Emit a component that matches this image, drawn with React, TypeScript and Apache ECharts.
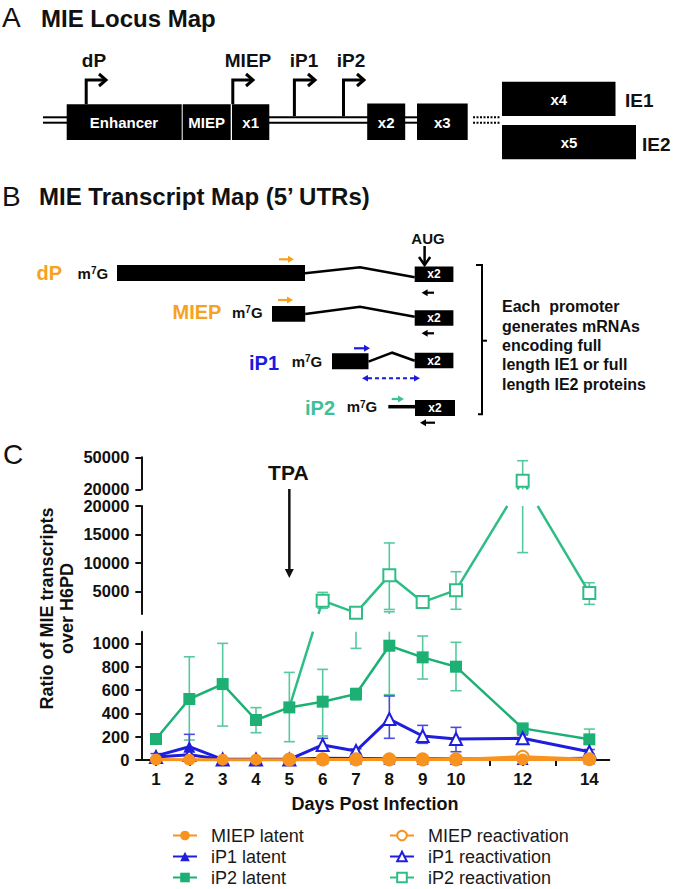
import React, { useEffect, useRef } from "react";
import * as echarts from "echarts";

const FONT = "'Liberation Sans', Arial, Helvetica, sans-serif";

// ---------------- Panel C data ----------------
const days = [1, 2, 3, 4, 5, 6, 7, 8, 9, 10, 12, 14];
const xTickDays = [1, 2, 3, 4, 5, 6, 7, 8, 9, 10, 11, 12, 13, 14];
const xLabelDays = [1, 2, 3, 4, 5, 6, 7, 8, 9, 10, 12, 14];

const miepLatent = [4, 3, 3, 3, 3, 4, 4, 4, 4, 4, 4, 4];
const ip1Latent = [35, 114, 6, 6, 6, 14, 12, 10, 10, 8, 8, 14];
const ip2Latent = [180, 523, 651, 343, 451, 500, 566, 980, 880, 800, 271, 177];
const miepReact = [null, null, null, null, 3, 5, 5, 5, 5, 5, 28, 6];
const ip1React = [25, 45, 5, 5, 5, 129, 77, 351, 206, 180, 186, 71];
const ip2React = [null, null, null, null, 451, 3340, 1200, 7800, 3100, 5200, 28000, 4700];

// error bars (lower / upper)
const ip2LatentLo = [160, 171, 291, 234, 157, 206, 514, 560, 694, 594, 240, 140];
const ip2LatentHi = [200, 885, 1000, 449, 751, 777, 614, 1400, 1063, 1009, 300, 265];
const ip1LatentLo = [15, 10, null, null, null, null, null, null, null, null, null, null];
const ip1LatentHi = [55, 220, null, null, null, null, null, null, null, null, null, null];
const ip1ReactLo = [null, null, null, null, null, 90, 55, 186, 143, 71, 165, 50];
const ip1ReactHi = [null, null, null, null, null, 186, 95, 549, 297, 280, 215, 90];
const ip2ReactLo = [null, null, null, null, null, 2000, 957, 1800, 2700, 1830, 11800, 2700];
const ip2ReactHi = [null, null, null, null, null, 4800, 1500, 13500, 3600, 8440, 46800, 6500];
const miepReactLo = [null, null, null, null, null, null, null, null, null, null, 10, null];
const miepReactHi = [null, null, null, null, null, null, null, null, null, null, 45, null];

// broken y axis segments
const bandMin = [0, 1000, 20000];
const bandMax = [1100, 20000, 50000];
const bandTicks = [
  [0, 200, 400, 600, 800, 1000],
  [5000, 10000, 15000, 20000],
  [20000, 50000],
];

const C_OR = "#F7931E";
const C_BL = "#1E1EDC";
const C_BLE = "#4A4AE4";
const C_GR = "#1DB074";
const C_GR2 = "#2EBE85";
const C_GRE = "#58C99C";

const bandOf = (v: number) => (v <= bandMax[0] ? 0 : v <= bandMax[1] ? 1 : 2);

function pairs(arr: (number | null)[]) {
  return days.map((d, i) => [d, arr[i]]).filter((p) => p[1] != null);
}

function errSeries(name: string, lo: (number | null)[], hi: (number | null)[], color: string) {
  const out: any[] = [];
  for (let band = 0; band < 3; band++) {
    const data: any[] = [];
    days.forEach((d, i) => {
      const l = lo[i];
      const h = hi[i];
      if (l == null || h == null) return;
      const ownLo = band === 0 ? -Infinity : bandMax[band - 1];
      const ownHi = bandMax[band];
      if (h <= ownLo || l > ownHi) return;
      data.push([
        d,
        Math.max(l, bandMin[band]),
        Math.min(h, bandMax[band]),
        bandOf(l) === band ? 1 : 0,
        bandOf(h) === band ? 1 : 0,
      ]);
    });
    if (!data.length) continue;
    out.push({
      type: "custom",
      name: name + " SD",
      xAxisIndex: band,
      yAxisIndex: band,
      silent: true,
      z: 1,
      encode: { x: 0, y: [1, 2] },
      data,
      renderItem: (params: any, api: any) => {
        const x = api.value(0);
        const a = api.coord([x, api.value(1)]);
        const b = api.coord([x, api.value(2)]);
        const w = 5.5;
        const st = { stroke: color, lineWidth: 1.6 };
        const children: any[] = [
          { type: "line", shape: { x1: a[0], y1: a[1], x2: b[0], y2: b[1] }, style: st },
        ];
        if (api.value(3)) children.push({ type: "line", shape: { x1: a[0] - w, y1: a[1], x2: a[0] + w, y2: a[1] }, style: st });
        if (api.value(4)) children.push({ type: "line", shape: { x1: b[0] - w, y1: b[1], x2: b[0] + w, y2: b[1] }, style: st });
        return { type: "group", children };
      },
    });
  }
  return out;
}

function lineSeries(name: string, data: any[], symbol: string, color: string, grid: number, z: number, lw = 2.5) {
  return {
    type: "line",
    name,
    xAxisIndex: grid,
    yAxisIndex: grid,
    data,
    symbol,
    symbolSize: 12,
    clip: false,
    z,
    itemStyle: { color, borderColor: color, borderWidth: symbol.indexOf("empty") === 0 ? 2 : 0 },
    lineStyle: { color, width: lw },
    emphasis: { disabled: true },
  };
}

function buildOption() {
  const gridTop = [631.7, 506, 457.3];
  const gridH = [128.3, 108, 32];
  const grids = [0, 1, 2].map((b) => ({ left: 141.33, width: 468, top: gridTop[b], height: gridH[b], outerBoundsMode: "none" }));
  const axisLineStyle = { color: "#111", width: 2 };
  const xAxes = [0, 1, 2].map((b) => ({
    gridIndex: b,
    type: "value",
    min: 0.56,
    max: 14.6,
    show: b === 0,
    axisLine: { show: true, onZero: false, lineStyle: axisLineStyle },
    axisTick: { show: true, customValues: xTickDays, length: 6, lineStyle: axisLineStyle },
    axisLabel: {
      customValues: xLabelDays,
      formatter: (v: number) => String(v),
      fontSize: 17,
      fontWeight: "bold",
      color: "#111",
      fontFamily: FONT,
      margin: 11,
    },
    splitLine: { show: false },
  }));
  const yAxes = [0, 1, 2].map((b) => ({
    gridIndex: b,
    type: "value",
    min: bandMin[b],
    max: bandMax[b],
    axisLine: { show: true, onZero: false, lineStyle: axisLineStyle },
    axisTick: { show: true, customValues: bandTicks[b], length: 6, lineStyle: axisLineStyle },
    axisLabel: {
      customValues: bandTicks[b],
      formatter: (v: number) => String(v),
      fontSize: 16.5,
      lineHeight: 15,
      fontWeight: "bold",
      color: "#111",
      fontFamily: FONT,
      margin: 12,
    },
    splitLine: { show: false },
  }));

  const series: any[] = [
    ...errSeries("iP2 latent", ip2LatentLo, ip2LatentHi, C_GRE),
    ...errSeries("iP2 reactivation", ip2ReactLo, ip2ReactHi, C_GRE),
    ...errSeries("iP1 latent", ip1LatentLo, ip1LatentHi, C_BLE),
    ...errSeries("iP1 reactivation", ip1ReactLo, ip1ReactHi, C_BLE),
    ...errSeries("MIEP reactivation", miepReactLo, miepReactHi, C_OR),
    lineSeries("iP2 latent", pairs(ip2Latent), "rect", C_GR, 0, 3),
    lineSeries(
      "iP2 reactivation",
      days.map((d, i) => [d, ip2React[i] != null && bandOf(ip2React[i] as number) === 1 ? ip2React[i] : null]),
      "emptyRect",
      C_GR2,
      1,
      3
    ),
    lineSeries(
      "iP2 reactivation",
      days.map((d, i) => [d, ip2React[i] != null && bandOf(ip2React[i] as number) === 2 ? ip2React[i] : null]),
      "emptyRect",
      C_GR2,
      2,
      3
    ),
    lineSeries("iP1 reactivation", pairs(ip1React), "emptyTriangle", C_BL, 0, 4, 3),
    lineSeries("iP1 latent", pairs(ip1Latent), "triangle", C_BL, 0, 4, 3),
    lineSeries("MIEP reactivation", pairs(miepReact), "emptyCircle", C_OR, 0, 5, 3),
    lineSeries("MIEP latent", pairs(miepLatent), "circle", C_OR, 0, 5, 3),
  ];

  const legendBase = {
    orient: "vertical",
    top: 826.5,
    height: 100,
    padding: 0,
    itemWidth: 24,
    itemHeight: 12,
    itemGap: 3,
    selectedMode: false,
    textStyle: { fontSize: 18, color: "#1a1a1a", fontFamily: FONT, padding: [0, 0, 0, 9] },
  };

  return {
    animation: false,
    backgroundColor: "#ffffff",
    textStyle: { fontFamily: FONT },
    grid: grids,
    xAxis: xAxes,
    yAxis: yAxes,
    legend: [
      { ...legendBase, left: 172, data: ["MIEP latent", "iP1 latent", "iP2 latent"] },
      { ...legendBase, left: 389, data: ["MIEP reactivation", "iP1 reactivation", "iP2 reactivation"] },
    ],
    series,
  };
}

// ---------------- Diagram helpers (panels A & B) ----------------
function diagramGraphics() {
  const g: any[] = [];
  const T = (x: number, y: number, text: string, o: any = {}) =>
    g.push({
      type: "text",
      x,
      y,
      z: 10,
      style: { text, fontFamily: FONT, fill: "#111", fontWeight: "bold", fontSize: 15, align: "left", verticalAlign: "middle", ...o },
    });
  const R = (x1: number, y1: number, x2: number, y2: number, fill = "#000") =>
    g.push({ type: "rect", z: 5, shape: { x: x1, y: y1, width: x2 - x1, height: y2 - y1 }, style: { fill } });
  const L = (x1: number, y1: number, x2: number, y2: number, stroke = "#000", lw = 2, dash?: number[]) =>
    g.push({ type: "line", z: 5, shape: { x1, y1, x2, y2 }, style: { stroke, lineWidth: lw, lineDash: dash } });
  const PL = (pts: number[][], stroke = "#000", lw = 2.5) =>
    g.push({ type: "polyline", z: 5, shape: { points: pts }, style: { stroke, lineWidth: lw, fill: null } });
  const PG = (pts: number[][], fill = "#000") => g.push({ type: "polygon", z: 5, shape: { points: pts }, style: { fill } });
  const m7G = (x: number, y: number) =>
    g.push({
      type: "text",
      x,
      y,
      z: 10,
      style: {
        text: "{m|m}{s|7}{m|G}",
        verticalAlign: "middle",
        align: "left",
        rich: {
          m: { fontFamily: FONT, fontWeight: "bold", fontSize: 15, fill: "#111" },
          s: { fontFamily: FONT, fontWeight: "bold", fontSize: 10, fill: "#111", verticalAlign: "top" },
        },
      },
    });
  const smallArrow = (x1: number, x2: number, y: number, color: string, dir: "r" | "l") => {
    if (dir === "r") {
      L(x1, y, x2 - 5, y, color, 2.2);
      PG([[x2, y], [x2 - 6, y - 3.5], [x2 - 6, y + 3.5]], color);
    } else {
      L(x1 + 5, y, x2, y, color, 2.2);
      PG([[x1, y], [x1 + 6, y - 3.5], [x1 + 6, y + 3.5]], color);
    }
  };
  const promoter = (xv: number, yBase: number, yTop: number, xEnd: number) => {
    PL([[xv, yBase], [xv, yTop], [xEnd, yTop]], "#000", 3);
    PL([[xEnd - 7, yTop - 6], [xEnd, yTop], [xEnd - 7, yTop + 6]], "#000", 3);
  };

  // ----- Panel A -----
  T(2, 17, "A", { fontWeight: "normal", fontSize: 28 });
  T(41, 18, "MIE Locus Map", { fontSize: 24 });
  const dl = (x1: number, x2: number, dash?: number[]) => {
    L(x1, 117.3, x2, 117.3, "#000", 2, dash);
    L(x1, 122.7, x2, 122.7, "#000", 2, dash);
  };
  dl(43, 67);
  dl(269, 368);
  dl(405, 417);
  dl(473, 500, [2, 1.5]);
  R(66.7, 104.3, 181.7, 140);
  R(182.7, 104.3, 230.7, 140);
  R(232, 104.3, 269.3, 140);
  R(367.2, 103.5, 405.2, 140);
  R(417, 103.5, 467.7, 140);
  R(502, 81.7, 615.5, 116);
  R(502, 125, 636, 159.3);
  const W = { fill: "#fff", align: "center" };
  T(124, 122.3, "Enhancer", W);
  T(206.7, 122.3, "MIEP", W);
  T(250.7, 122.3, "x1", W);
  T(386.2, 122.3, "x2", W);
  T(442.3, 122.3, "x3", W);
  T(558.8, 99, "x4", W);
  T(569, 142, "x5", W);
  T(625, 100, "IE1", { fontSize: 19 });
  T(642, 144, "IE2", { fontSize: 19 });
  T(94, 60, "dP", { fontSize: 19, align: "center" });
  T(248, 60, "MIEP", { fontSize: 19, align: "center" });
  T(304, 60, "iP1", { fontSize: 19, align: "center" });
  T(351, 60, "iP2", { fontSize: 19, align: "center" });
  promoter(86.2, 104.3, 80, 106);
  promoter(232.8, 104.3, 80, 253);
  promoter(294.4, 116.3, 80, 315);
  promoter(343.5, 116.3, 80, 364);

  // ----- Panel B -----
  const OR = "#F6A21E";
  const BL = "#1A1AE0";
  const GN = "#3DBF98";
  T(2, 196, "B", { fontWeight: "normal", fontSize: 28 });
  T(39, 196, "MIE Transcript Map (5\u2019 UTRs)", { fontSize: 24 });
  T(428, 238.3, "AUG", { align: "center", fontSize: 15 });
  L(424.6, 246, 424.6, 264, "#000", 2.5);
  PL([[419, 257], [424.6, 265], [430.2, 257]], "#000", 2.5);

  const x2box = (yc: number) => {
    R(414.7, yc - 7.7, 453.4, yc + 7.7);
    T(434, yc, "x2", { fill: "#fff", align: "center", fontSize: 12 });
  };
  // dP row
  T(36.6, 273.3, "dP", { fill: OR, fontSize: 20 });
  m7G(77.6, 273);
  R(117, 265, 305, 281);
  smallArrow(279, 294, 259.3, OR, "r");
  PL([[305, 273.3], [360, 267.3], [414.7, 277.3]], "#000", 2.5);
  x2box(274.2);
  smallArrow(421.6, 434, 292.7, "#000", "l");
  // MIEP row
  T(172.5, 312, "MIEP", { fill: OR, fontSize: 20 });
  m7G(232, 312);
  R(272, 306, 305.2, 321.7);
  smallArrow(278, 293, 300, OR, "r");
  PL([[305.2, 314], [360, 306.7], [414.7, 316.7]], "#000", 2.5);
  x2box(318);
  smallArrow(421.6, 434, 333.3, "#000", "l");
  // iP1 row
  T(249, 362.7, "iP1", { fill: BL, fontSize: 20 });
  m7G(291.7, 361);
  R(332, 353.3, 368.5, 369.3);
  smallArrow(354, 370, 348.3, BL, "r");
  PL([[368.5, 361.7], [392.2, 352.7], [414.7, 360.7]], "#000", 2.5);
  x2box(360.5);
  L(368, 378.3, 414, 378.3, BL, 2, [4, 3]);
  PG([[362, 378.3], [368, 375], [368, 381.6]], BL);
  PG([[420, 378.3], [414, 375], [414, 381.6]], BL);
  // iP2 row
  T(305, 408.3, "iP2", { fill: GN, fontSize: 20 });
  m7G(346.7, 406.7);
  L(388.3, 406.7, 416, 406.7, "#000", 3.5);
  smallArrow(391.7, 404, 399, GN, "r");
  R(415, 400, 455, 416);
  T(435, 408, "x2", { fill: "#fff", align: "center", fontSize: 12 });
  smallArrow(420, 435, 422.7, "#000", "l");
  // bracket + text
  PL([[476, 265], [482, 265], [482, 414.3], [478, 414.3]], "#000", 2);
  L(482, 340.7, 487, 340.7, "#000", 2);
  const lines = ["Each  promoter", "generates mRNAs", "encoding full", "length IE1 or full", "length IE2 proteins"];
  lines.forEach((s, i) => T(502, 306.7 + i * 19.4, s, { fontSize: 16 }));

  // ----- Panel C static labels -----
  T(3, 454, "C", { fontWeight: "normal", fontSize: 28 });
  g.push({
    type: "text",
    x: 57,
    y: 608.5,
    rotation: Math.PI / 2,
    z: 10,
    style: {
      text: "Ratio of MIE transcripts\nover H6PD",
      fontFamily: FONT,
      fontWeight: "bold",
      fontSize: 18,
      lineHeight: 20,
      fill: "#111",
      align: "center",
      verticalAlign: "middle",
    },
  });
  T(375, 803.5, "Days Post Infection", { align: "center", fontSize: 18 });
  return g;
}

// cross-segment lines of the iP2 reactivation curve, positioned with the chart's own scales
function crossBandGraphics(chart: any) {
  const g: any[] = [];
  const pix = (d: number, v: number) => chart.convertToPixel({ gridIndex: bandOf(v) }, [d, v]);
  const bandPix = [0, 1, 2].map((b) => [
    chart.convertToPixel({ gridIndex: b }, [1, bandMax[b]])[1],
    chart.convertToPixel({ gridIndex: b }, [1, bandMin[b]])[1],
  ]);
  const pts = days.map((d, i) => (ip2React[i] == null ? null : { d, v: ip2React[i] as number }));
  for (let i = 0; i < pts.length - 1; i++) {
    const a = pts[i];
    const b = pts[i + 1];
    if (!a || !b) continue;
    if (bandOf(a.v) === bandOf(b.v)) continue;
    const p1 = pix(a.d, a.v);
    const p2 = pix(b.d, b.v);
    for (const [yt, yb] of bandPix) {
      const dy = p2[1] - p1[1];
      const tA = (yt - p1[1]) / dy;
      const tB = (yb - p1[1]) / dy;
      const t0 = Math.max(0, Math.min(tA, tB));
      const t1 = Math.min(1, Math.max(tA, tB));
      if (t1 <= t0) continue;
      g.push({
        type: "line",
        z: 1,
        shape: {
          x1: p1[0] + (p2[0] - p1[0]) * t0,
          y1: p1[1] + dy * t0,
          x2: p1[0] + (p2[0] - p1[0]) * t1,
          y2: p1[1] + dy * t1,
        },
        style: { stroke: C_GR2, lineWidth: 2.5 },
      });
    }
  }
  // TPA annotation at day 5
  const xt = chart.convertToPixel({ gridIndex: 0 }, [5, 0])[0];
  g.push({
    type: "text",
    x: xt - 1,
    y: 472,
    z: 10,
    style: { text: "TPA", fontFamily: FONT, fontWeight: "bold", fontSize: 21, fill: "#111", align: "center", verticalAlign: "middle" },
  });
  g.push({ type: "line", z: 10, shape: { x1: xt, y1: 489, x2: xt, y2: 571 }, style: { stroke: "#111", lineWidth: 2.5 } });
  g.push({ type: "polygon", z: 10, shape: { points: [[xt - 4.5, 569], [xt + 4.5, 569], [xt, 578]] }, style: { fill: "#111" } });
  return g;
}

export default function App() {
  const ref = useRef<HTMLDivElement>(null);
  useEffect(() => {
    document.body.style.margin = "0";
    const chart = echarts.init(ref.current as HTMLDivElement, null, { renderer: "svg" });
    chart.setOption(buildOption() as any);
    const elements = [...diagramGraphics(), ...crossBandGraphics(chart)];
    chart.setOption({ graphic: { elements } } as any);
    return () => chart.dispose();
  }, []);
  return <div ref={ref} style={{ position: "absolute", left: 0, top: 0, width: 677, height: 889, background: "#fff" }} />;
}
